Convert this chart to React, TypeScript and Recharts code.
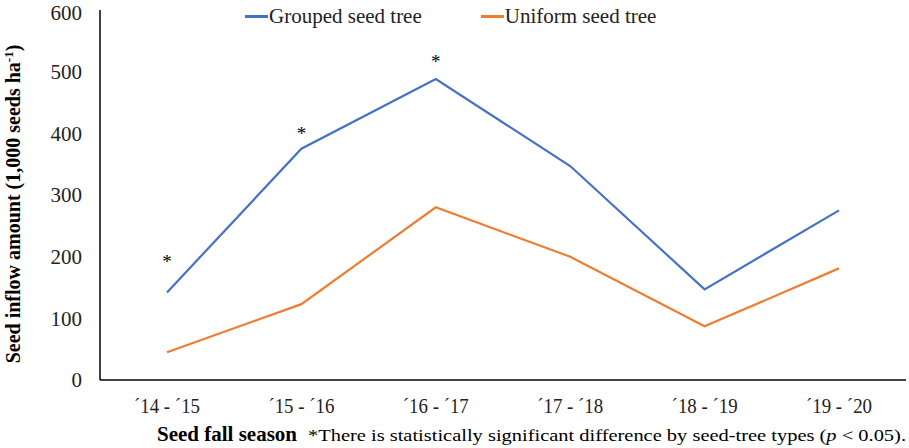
import { LineChart, Line, XAxis, YAxis } from "recharts";

const seasons = ["´14 - ´15", "´15 - ´16", "´16 - ´17", "´17 - ´18", "´18 - ´19", "´19 - ´20"];
const grouped = [142, 375, 488, 347, 147, 275];
const uniform = [45, 123, 280, 200, 87, 181];
// where the significance asterisks sit (same units as the y axis)
const starLevel = [200, 407, 524, null, null, null];
const yTicks = [0, 100, 200, 300, 400, 500, 600];

const BLUE = "#4472C4";
const ORANGE = "#ED7D31";
const SERIF = "Liberation Serif, Times New Roman, serif";

const data = seasons.map((s, i) => ({
    season: s,
    grouped: grouped[i],
    uniform: uniform[i],
    sig: starLevel[i],
}));

const StarDot = (props: any) => {
    const { cx, cy, payload, index } = props;
    if (payload == null || payload.sig == null || cy == null) return <g key={`s-${index}`} />;
    return (
        <text key={`s-${index}`} x={cx} y={cy + 11} textAnchor="middle" fontFamily={SERIF} fontSize={19} fill="#000">
            *
        </text>
    );
};

const XTick = (props: any) => {
    const { x, y, payload } = props;
    return (
        <text x={x} y={y + 25} textAnchor="middle" fontFamily={SERIF} fontSize={21} fill="#222"
            textLength={66} lengthAdjust="spacingAndGlyphs">
            {payload.value}
        </text>
    );
};

const renderYLabel = () => (
    <text x={20} y={204} transform="rotate(-90 20 204)" textAnchor="middle" fontFamily={SERIF}
        fontSize={20} fontWeight="bold" fill="#000">
        Seed inflow amount (1,000 seeds ha
        <tspan dy={-7} fontSize={13}>-1</tspan>
        <tspan dy={7}>)</tspan>
    </text>
);

const renderFooter = () => (
    <g>
        <text x={157} y={441} fontFamily={SERIF} fontSize={20} fontWeight="bold" fill="#000"
            textLength={140} lengthAdjust="spacingAndGlyphs">
            Seed fall season
        </text>
        <text x={308} y={441} fontFamily={SERIF} fontSize={17} fill="#000"
            textLength={598} lengthAdjust="spacingAndGlyphs">
            *There is statistically significant difference by seed-tree types (
            <tspan fontStyle="italic">p</tspan> &lt; 0.05).
        </text>
    </g>
);

export default function App() {
    return (
        <div style={{ position: "absolute", left: 0, top: 0, width: 909, height: 448, background: "#fff" }}>
            <LineChart width={909} height={448} data={data} margin={{ top: 10, right: 3, left: 20, bottom: 38 }}>
                <XAxis
                    dataKey="season"
                    height={30}
                    padding={{ left: 67, right: 67 }}
                    axisLine={{ stroke: "#000", strokeWidth: 1.5 }}
                    tickLine={false}
                    tick={<XTick />}
                    interval={0}
                    label={renderFooter}
                />
                <YAxis
                    width={80}
                    domain={[0, 600]}
                    ticks={yTicks}
                    axisLine={{ stroke: "#000", strokeWidth: 1.5 }}
                    tickLine={false}
                    tickMargin={12}
                    tick={{ fontFamily: SERIF, fontSize: 21, fill: "#222" }}
                    label={renderYLabel}
                />
                <Line dataKey="grouped" stroke={BLUE} strokeWidth={2.2} dot={false} isAnimationActive={false} />
                <Line dataKey="uniform" stroke={ORANGE} strokeWidth={2.2} dot={false} isAnimationActive={false} />
                <Line dataKey="sig" stroke="none" dot={StarDot} activeDot={false} isAnimationActive={false} />
            </LineChart>
            <div style={{ position: "absolute", left: 245, top: 4, display: "flex",
                gap: 59, fontFamily: SERIF, fontSize: 21, color: "#222" }}>
                <span style={{ display: "flex", alignItems: "center" }}>
                    <span style={{ display: "inline-block", width: 23, height: 2.5, background: BLUE, marginRight: 1 }} />
                    Grouped seed tree
                </span>
                <span style={{ display: "flex", alignItems: "center" }}>
                    <span style={{ display: "inline-block", width: 23, height: 2.5, background: ORANGE, marginRight: 1 }} />
                    Uniform seed tree
                </span>
            </div>
        </div>
    );
}
